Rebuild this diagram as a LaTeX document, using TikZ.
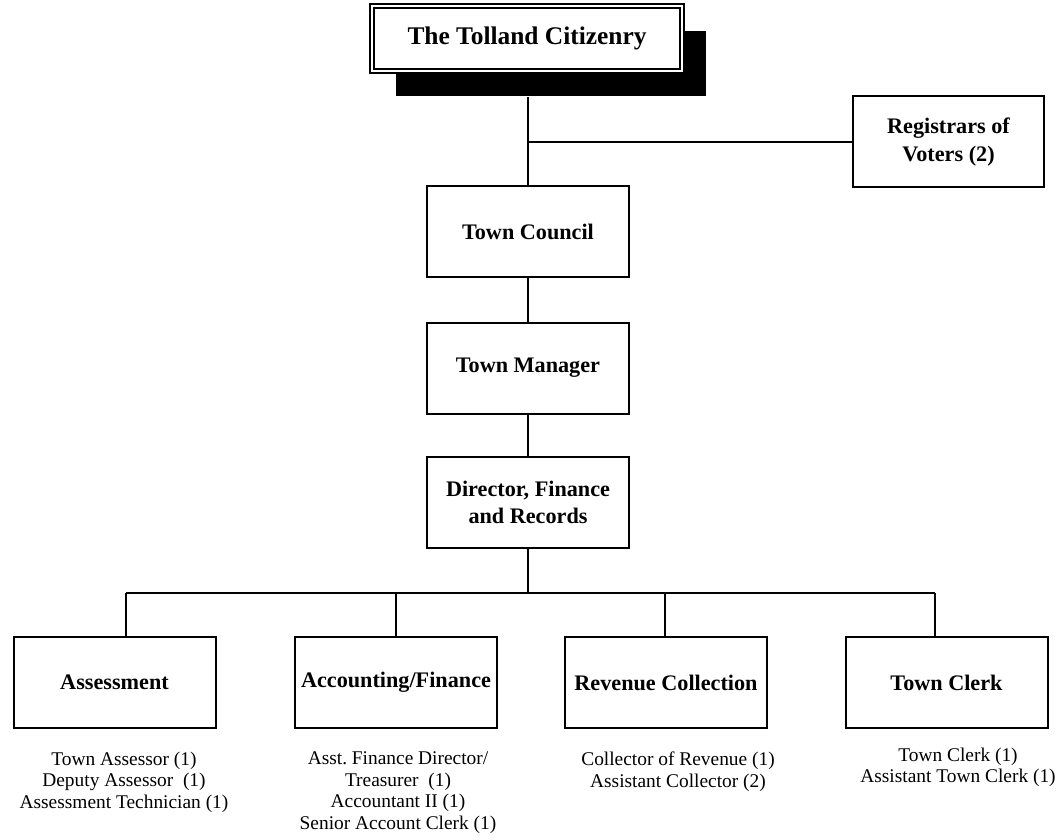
\documentclass[tikz,border=0pt]{standalone}
\usepackage{fontspec}
\setmainfont{Liberation Serif}
\usetikzlibrary{shadows}
\frenchspacing

\begin{document}
\begin{tikzpicture}[
    x=0.5pt, y=-0.5pt,
    line width=1pt,
    color=black,
    % Style for the unit boxes
    unit box/.style={draw, fill=white, inner sep=0pt, align=center,
        minimum width=101pt, minimum height=45.5pt,
        font=\bfseries\fontsize{11.1}{13.7}\selectfont},
    % Style for the staff lists under the bottom boxes
    staff text/.style={anchor=north, inner sep=0pt, align=center,
        font=\fontsize{9.7}{10.7}\selectfont}
]
    \useasboundingbox (0,0) rectangle (1063,839);

    % ==========================
    % Top: citizens and registrars
    % ==========================
    \node[draw, double, double distance=1.1pt, line width=0.8pt, fill=white,
        minimum width=155pt, minimum height=32.5pt, inner sep=0pt,
        font=\bfseries\fontsize{12.7}{15}\selectfont,
        drop shadow={shadow xshift=12pt, shadow yshift=-12.5pt, fill=black, opacity=1}]
        (citizens) at (527,38.5) {The Tolland Citizenry};

    \node[unit box, minimum width=95.5pt] (registrars) at (948.5,142) {Registrars of\\Voters (2)};

    % ==========================
    % Middle column
    % ==========================
    \node[unit box] (council) at (528,232) {Town Council};
    \node[unit box] (manager) at (528,368) {Town Manager};
    \node[unit box] (director) at (528,502.5) {Director, Finance\\and Records};

    \coordinate (junction) at (528,142);
    \draw (528,97) -- (council.north);
    \draw (junction) -- (registrars.west);
    \draw (council) -- (manager);
    \draw (manager) -- (director);

    % ==========================
    % Bottom row: the four offices
    % ==========================
    \node[unit box] (assessment) at (114.5,682.5) {Assessment};
    \node[unit box] (accounting) at (396,682.5) {Accounting/Finance};
    \node[unit box] (revenue) at (666,682.5) {Revenue Collection};
    \node[unit box] (clerk) at (946.5,682.5) {Town Clerk};

    \coordinate (bus) at (528,593);
    \coordinate (dropA) at (126,593);
    \coordinate (dropB) at (396,593);
    \coordinate (dropC) at (665,593);
    \coordinate (dropD) at (935,593);

    \draw (director) -- (bus);
    \draw (dropA) -- (dropD);
    \foreach \d/\n in {dropA/assessment, dropB/accounting, dropC/revenue, dropD/clerk}
        \draw (\d) -- (\d |- \n.north);

    % staff lists
    \node[staff text] (assessment staff) at (124,751)
        {Town Assessor (1)\\Deputy Assessor~ (1)\\Assessment Technician (1)};
    \node[staff text] (accounting staff) at (398,751)
        {Asst. Finance Director/\\Treasurer~ (1)\\Accountant II (1)\\Senior Account Clerk (1)};
    \node[staff text] (revenue staff) at (678,751)
        {Collector of Revenue (1)\\Assistant Collector (2)};
    \node[staff text] (clerk staff) at (958,747)
        {Town Clerk (1)\\Assistant Town Clerk (1)};

\end{tikzpicture}
\end{document}
